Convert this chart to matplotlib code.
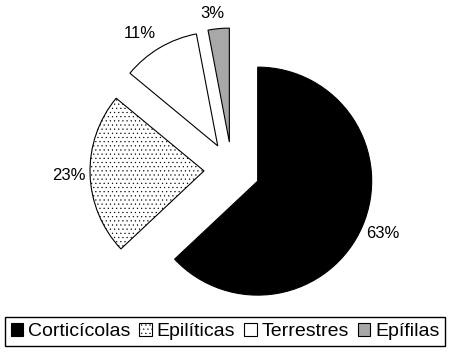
import math

import matplotlib
matplotlib.use("Agg")
import matplotlib.pyplot as plt

plt.rcParams["font.family"] = ["Liberation Sans", "DejaVu Sans"]
plt.rcParams["hatch.linewidth"] = 0.35

# data
categories = ["Corticícolas", "Epilíticas", "Terrestres", "Epífilas"]
shares = [63, 23, 11, 3]
colors = ["black", "white", "white", "#a8a8a8"]
hatches = [None, "....", None, None]
label_dist = [1.19, 1.19, 1.2, 1.14]   # label distance, in radii
label_turn = [0.7, 0, 4, 2]            # degrees, counter-clockwise nudge

fig = plt.figure(figsize=(4.52, 3.52), dpi=100)
ax = fig.add_axes([0, 0, 1, 1])

radius = 114
wedges, texts, autotexts = ax.pie(
    shares,
    colors=colors,
    explode=[28] * len(shares),
    center=(232, 182),
    radius=radius,
    startangle=90,
    counterclock=False,
    autopct="%1.0f%%",
    wedgeprops=dict(edgecolor="black", linewidth=0.8),
    textprops=dict(fontsize=12, color="black"),
)
for w, h, t, d, turn in zip(wedges, hatches, autotexts, label_dist, label_turn):
    if h:
        w.set_hatch(h)
    # put each percentage label at its own spot off the wedge tip
    mid = math.radians((w.theta1 + w.theta2) / 2 + turn)
    cx, cy = w.center
    t.set_position((cx + d * radius * math.cos(mid), cy + d * radius * math.sin(mid)))

ax.set_xlim(0, 452)
ax.set_ylim(0, 352)
ax.set_aspect("equal")
ax.axis("off")

leg = ax.legend(
    wedges, categories,
    loc="lower center", bbox_to_anchor=(225 / 452, 6 / 352),
    ncol=4, fontsize=14, frameon=True, fancybox=False,
    edgecolor="black", framealpha=1, borderaxespad=0,
    handlelength=0.65, handleheight=0.65, handletextpad=0.25,
    columnspacing=0.45, borderpad=0.3,
)
leg.get_frame().set_linewidth(1.0)

plt.savefig("out.png", dpi=100)
plt.close()
